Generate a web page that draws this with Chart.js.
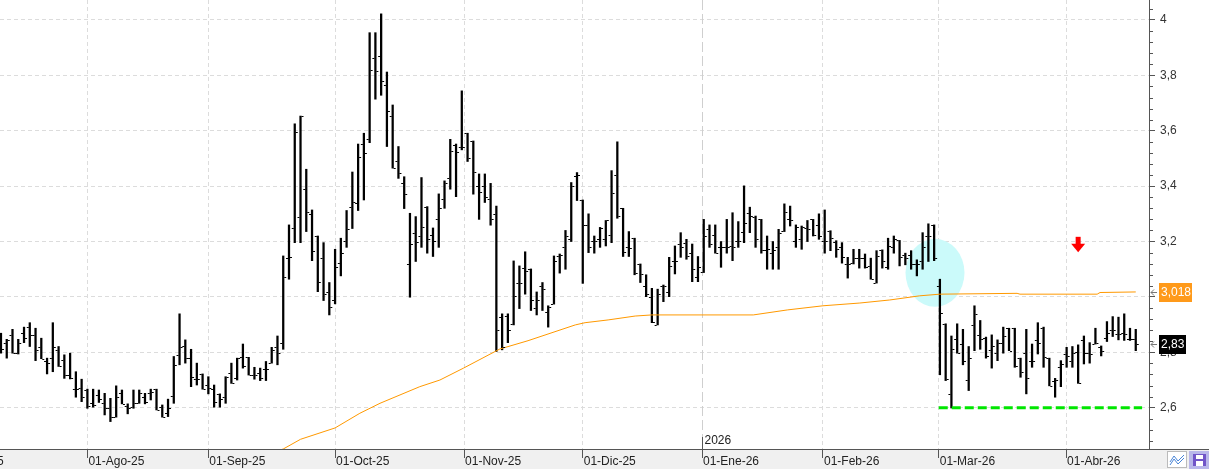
<!DOCTYPE html>
<html>
<head>
<meta charset="utf-8">
<script src="https://cdn.jsdelivr.net/npm/chart.js@4"></script>
<style>
html, body { margin: 0; padding: 0; background: #fff; }
#wrap { width: 1209px; height: 469px; }
</style>
</head>
<body>
<div id="wrap"><canvas id="chart"></canvas></div>
<script>
// DAILY BARS (Jul-25 .. Abr-26), one entry per session
const open = [
2.847,2.833,2.863,2.797,2.869,2.891,2.863,2.821,2.767,2.779,
2.809,2.773,2.718,2.667,2.670,2.664,2.616,2.646,2.616,2.598,
2.566,2.652,2.607,2.604,2.616,2.640,2.652,2.667,2.604,2.580,
2.643,2.791,2.823,2.779,2.703,2.722,2.682,2.667,2.650,2.638,
2.727,2.706,2.782,2.782,2.718,2.727,2.739,2.761,2.821,2.833,
3.140,3.248,3.288,3.389,3.300,3.220,3.140,3.019,2.989,3.122,
3.203,3.326,3.338,3.552,3.569,3.862,3.870,3.764,3.653,3.491,
3.413,3.119,3.230,3.220,3.324,3.224,3.280,3.353,3.428,3.549,
3.540,3.591,3.563,3.401,3.401,3.353,3.298,2.927,2.932,2.903,
3.049,3.103,3.101,2.959,3.040,2.947,2.974,3.146,3.179,3.208,
3.438,3.350,3.260,3.203,3.208,3.208,3.224,3.440,3.320,3.182,
3.212,3.119,3.040,2.999,2.899,3.040,3.019,3.131,3.191,3.196,
3.158,3.071,3.091,3.244,3.224,3.179,3.179,3.184,3.203,3.236,
3.304,3.288,3.280,3.170,3.160,3.182,3.239,3.280,3.203,3.208,
3.248,3.280,3.260,3.203,3.239,3.200,3.179,3.119,3.124,3.140,
3.140,3.112,3.050,3.170,3.107,3.182,3.204,3.152,3.152,3.119,
3.131,3.220,3.260,3.040,2.903,2.650,2.847,2.831,2.700,2.899,
2.863,2.851,2.809,2.799,2.833,2.887,2.887,2.779,2.799,2.767,
2.845,2.887,2.779,2.698,2.746,2.794,2.770,2.800,2.845,2.799,
2.830,2.818,2.851,2.881,2.866,2.869,2.847,2.847];
const high = [
2.869,2.847,2.883,2.847,2.891,2.907,2.887,2.851,2.779,2.907,
2.821,2.791,2.797,2.730,2.703,2.667,2.667,2.664,2.652,2.634,
2.679,2.664,2.614,2.664,2.664,2.652,2.667,2.667,2.610,2.631,
2.785,2.939,2.845,2.811,2.761,2.722,2.712,2.682,2.650,2.712,
2.761,2.779,2.830,2.782,2.746,2.743,2.767,2.818,2.859,3.148,
3.260,3.625,3.653,3.461,3.314,3.220,3.196,3.052,3.172,3.212,
3.312,3.451,3.552,3.591,3.954,3.954,4.022,3.812,3.693,3.543,
3.434,3.302,3.290,3.431,3.326,3.249,3.372,3.419,3.569,3.552,
3.744,3.591,3.563,3.444,3.444,3.410,3.328,2.939,2.939,3.130,
3.112,3.163,3.101,3.018,3.052,2.968,3.148,3.155,3.240,3.413,
3.449,3.350,3.300,3.220,3.251,3.276,3.456,3.560,3.320,3.236,
3.212,3.119,3.080,3.031,3.028,3.043,3.143,3.184,3.232,3.208,
3.191,3.146,3.280,3.260,3.260,3.200,3.280,3.304,3.272,3.401,
3.324,3.292,3.280,3.220,3.200,3.244,3.336,3.328,3.260,3.256,
3.276,3.280,3.300,3.314,3.239,3.203,3.196,3.143,3.172,3.172,
3.155,3.140,3.167,3.170,3.212,3.220,3.204,3.158,3.167,3.134,
3.232,3.264,3.260,3.064,2.903,2.859,2.903,2.883,2.821,2.968,
2.915,2.855,2.863,2.845,2.891,2.887,2.887,2.779,2.883,2.830,
2.907,2.891,2.779,2.706,2.770,2.818,2.821,2.827,2.859,2.835,
2.887,2.823,2.911,2.929,2.927,2.939,2.887,2.883];
const low = [
2.797,2.779,2.797,2.794,2.835,2.821,2.770,2.777,2.722,2.730,
2.749,2.706,2.704,2.638,2.622,2.598,2.602,2.619,2.574,2.550,
2.566,2.614,2.578,2.598,2.616,2.614,2.628,2.592,2.566,2.568,
2.616,2.755,2.761,2.676,2.682,2.667,2.650,2.602,2.602,2.616,
2.688,2.700,2.743,2.718,2.703,2.698,2.698,2.761,2.755,2.811,
3.064,3.196,3.196,3.236,3.131,3.019,2.987,2.935,2.975,3.076,
3.179,3.247,3.312,3.350,3.557,3.714,3.728,3.543,3.465,3.428,
3.319,2.999,3.128,3.179,3.158,3.146,3.179,3.320,3.389,3.362,
3.531,3.489,3.371,3.280,3.341,3.259,2.803,2.809,2.835,2.899,
2.958,3.010,2.951,2.935,2.951,2.891,2.974,3.086,3.100,3.200,
3.348,3.049,3.160,3.158,3.179,3.184,3.196,3.284,3.146,3.146,
3.080,3.052,3.001,2.907,2.899,2.983,3.001,3.083,3.143,3.136,
3.055,3.055,3.088,3.179,3.158,3.107,3.158,3.131,3.179,3.196,
3.232,3.179,3.158,3.100,3.100,3.100,3.236,3.256,3.179,3.172,
3.200,3.220,3.208,3.158,3.167,3.143,3.122,3.068,3.119,3.104,
3.104,3.064,3.050,3.104,3.100,3.158,3.112,3.116,3.100,3.076,
3.100,3.128,3.131,2.719,2.698,2.599,2.797,2.755,2.662,2.806,
2.811,2.779,2.743,2.770,2.797,2.806,2.746,2.710,2.650,2.746,
2.794,2.746,2.679,2.638,2.676,2.746,2.746,2.688,2.758,2.761,
2.830,2.787,2.839,2.857,2.845,2.843,2.843,2.806];
const close = [
2.812,2.845,2.797,2.833,2.851,2.863,2.809,2.777,2.761,2.818,
2.749,2.718,2.706,2.667,2.640,2.607,2.610,2.631,2.598,2.568,
2.638,2.614,2.598,2.616,2.652,2.622,2.655,2.592,2.566,2.598,
2.755,2.818,2.779,2.710,2.703,2.667,2.670,2.619,2.631,2.710,
2.691,2.779,2.751,2.718,2.718,2.706,2.739,2.809,2.799,3.071,
3.143,3.597,3.653,3.308,3.167,3.055,3.011,2.965,3.107,3.158,
3.244,3.343,3.504,3.519,3.820,3.816,3.781,3.672,3.465,3.449,
3.372,3.191,3.200,3.252,3.208,3.203,3.320,3.410,3.528,3.522,
3.540,3.501,3.452,3.380,3.360,3.280,2.881,2.818,2.881,3.004,
3.049,3.092,2.989,2.989,3.028,2.965,3.130,3.152,3.220,3.401,
3.440,3.260,3.179,3.203,3.248,3.276,3.377,3.292,3.164,3.176,
3.088,3.083,3.011,2.911,3.011,3.040,3.110,3.131,3.179,3.146,
3.100,3.107,3.220,3.191,3.158,3.179,3.179,3.179,3.203,3.268,
3.292,3.208,3.170,3.172,3.170,3.232,3.308,3.278,3.252,3.252,
3.244,3.224,3.220,3.203,3.212,3.172,3.143,3.119,3.140,3.140,
3.107,3.064,3.148,3.128,3.184,3.208,3.143,3.140,3.119,3.119,
3.179,3.220,3.140,2.941,2.703,2.811,2.797,2.767,2.779,2.939,
2.847,2.785,2.823,2.835,2.859,2.806,2.751,2.730,2.706,2.767,
2.835,2.782,2.679,2.701,2.758,2.787,2.799,2.690,2.799,2.794,
2.835,2.806,2.869,2.879,2.866,2.866,2.847,2.830];

// MOVING AVERAGE (orange), read at a few sessions
const maIndex = [46, 49, 52, 58, 62.3, 65.8, 72.7, 76.2, 80.3, 86.6, 91.5, 97.4, 99.7, 101.4, 105.4, 110.1, 113, 130.6, 136.5, 142.7, 149.1, 154.3, 159.5, 163, 176.4, 176.9, 190.3, 190.8, 197];
const maValue = [2.430, 2.451, 2.486, 2.527, 2.580, 2.616, 2.676, 2.700, 2.743, 2.812, 2.842, 2.883, 2.899, 2.907, 2.917, 2.931, 2.935, 2.935, 2.953, 2.968, 2.978, 2.989, 3.004, 3.010, 3.013, 3.010, 3.010, 3.016, 3.018];

// AXES
const monthPos = [-8.4, 15, 36, 58, 80.4, 101, 121.7, 142.7, 162.8, 184.9];
const monthLabels = ["01-Jul-25", "01-Ago-25", "01-Sep-25", "01-Oct-25", "01-Nov-25", "01-Dic-25", "01-Ene-26", "01-Feb-26", "01-Mar-26", "01-Abr-26"];
const priceTicks = [2.6, 2.8, 3.0, 3.2, 3.4, 3.6, 3.8, 4.0];

// ANNOTATIONS
const yearMark = { pos: 121.7, label: "2026" };
const supportLine = { value: 2.6, from: 162.8, to: 198.1 };
const circleMark = { x: 162.15, y: 3.087 };
const arrowMark = { x: 187, y: 3.217 };

const yearTick = monthLabels.indexOf("01-Ene-26");
const fmt = (v, d) => v.toFixed(d).replace('.', ',');

Chart.defaults.font.family = '"Liberation Sans", Arial, sans-serif';
Chart.defaults.font.size = 12;
Chart.defaults.color = '#333';

// DRAWING HELPERS
const extras = {
    id: 'extras',
    beforeDraw(chart) {
        const ctx = chart.ctx;
        ctx.save();
        ctx.fillStyle = '#fff';
        ctx.fillRect(0, 0, chart.width, chart.height);
        ctx.fillStyle = '#f0f0f0';
        ctx.fillRect(0, chart.chartArea.bottom, chart.width, chart.height - chart.chartArea.bottom);
        ctx.restore();
    },
    beforeDatasetsDraw(chart) {
        const ctx = chart.ctx, x = chart.scales.x, y = chart.scales.y, a = chart.chartArea;
        ctx.save();
        ctx.beginPath();
        ctx.rect(a.left, a.top, a.right - a.left, a.bottom - a.top);
        ctx.clip();
        // year separator
        const gx = Math.round(x.getPixelForValue(yearMark.pos)) + 0.5;
        ctx.strokeStyle = '#cfcfcf';
        ctx.lineWidth = 1;
        ctx.setLineDash([10, 4]);
        ctx.beginPath();
        ctx.moveTo(gx, a.top);
        ctx.lineTo(gx, a.bottom);
        ctx.stroke();
        ctx.setLineDash([]);
        // cyan circle
        ctx.fillStyle = '#cbfafa';
        ctx.beginPath();
        ctx.ellipse(x.getPixelForValue(circleMark.x), y.getPixelForValue(circleMark.y), 29.5, 34, 0, 0, Math.PI * 2);
        ctx.fill();
        ctx.restore();
    },
    afterDatasetsDraw(chart) {
        const ctx = chart.ctx, x = chart.scales.x, y = chart.scales.y, a = chart.chartArea;
        const meta = chart.getDatasetMeta(1);
        ctx.save();
        ctx.beginPath();
        ctx.rect(a.left, a.top, a.right - a.left, a.bottom - a.top);
        ctx.clip();
        // open / close ticks
        ctx.fillStyle = '#000';
        meta.data.forEach((bar, i) => {
            ctx.fillRect(bar.x - 3, Math.round(y.getPixelForValue(open[i])), 2, 1);
            ctx.fillRect(bar.x + 1, Math.round(y.getPixelForValue(close[i])), 2, 1);
        });
        // support line
        const sy = y.getPixelForValue(supportLine.value);
        ctx.strokeStyle = '#00e600';
        ctx.lineWidth = 3;
        ctx.setLineDash([9, 4]);
        ctx.beginPath();
        ctx.moveTo(x.getPixelForValue(supportLine.from), sy);
        ctx.lineTo(x.getPixelForValue(supportLine.to), sy);
        ctx.stroke();
        ctx.setLineDash([]);
        // red arrow
        const ax = x.getPixelForValue(arrowMark.x), ay = y.getPixelForValue(arrowMark.y);
        ctx.fillStyle = '#ff0000';
        ctx.fillRect(ax - 2.5, ay, 5, 8);
        ctx.beginPath();
        ctx.moveTo(ax - 7, ay + 7);
        ctx.lineTo(ax + 7, ay + 7);
        ctx.lineTo(ax, ay + 15.5);
        ctx.closePath();
        ctx.fill();
        ctx.restore();
    },
    afterDraw(chart) {
        const ctx = chart.ctx, x = chart.scales.x, y = chart.scales.y, a = chart.chartArea;
        ctx.save();
        // bottom line across full width
        ctx.strokeStyle = '#555';
        ctx.lineWidth = 1;
        ctx.beginPath();
        ctx.moveTo(0, a.bottom + 0.5);
        ctx.lineTo(chart.width, a.bottom + 0.5);
        ctx.stroke();
        // minor price ticks
        ctx.beginPath();
        for (let k = 62; k <= 101; k++) {
            if (k % 5 === 0) continue;
            const ty = Math.round(y.getPixelForValue(k * 0.04)) + 0.5;
            ctx.moveTo(a.right, ty);
            ctx.lineTo(a.right + 4, ty);
        }
        ctx.stroke();
        // year marker
        const gx = Math.round(x.getPixelForValue(yearMark.pos)) + 0.5;
        ctx.beginPath();
        ctx.moveTo(gx, a.bottom - 12);
        ctx.lineTo(gx, a.bottom);
        ctx.stroke();
        ctx.fillStyle = '#222';
        ctx.font = '12px "Liberation Sans", Arial, sans-serif';
        ctx.textBaseline = 'middle';
        ctx.textAlign = 'left';
        ctx.fillText(yearMark.label, gx + 2, a.bottom - 8);
        // last value labels
        const tags = [
            { v: maValue[maValue.length - 1], text: fmt(maValue[maValue.length - 1], 3), bg: '#ff9a1a', w: 33 },
            { v: close[close.length - 1], text: fmt(close[close.length - 1], 2), bg: '#000', w: 27 }
        ];
        tags.forEach(t => {
            const ty = Math.round(y.getPixelForValue(t.v));
            ctx.fillStyle = t.bg;
            ctx.fillRect(a.right + 10, ty - 9, t.w, 19);
            ctx.fillStyle = '#fff';
            ctx.fillText(t.text, a.right + 12, ty + 1);
            ctx.strokeStyle = '#777';
            ctx.beginPath();
            ctx.moveTo(a.right + 2, ty + 0.5);
            ctx.lineTo(a.right + 8, ty + 0.5);
            ctx.moveTo(a.right + 5, ty - 2.5);
            ctx.lineTo(a.right + 2, ty + 0.5);
            ctx.lineTo(a.right + 5, ty + 3.5);
            ctx.stroke();
        });
        // corner buttons
        const by = a.bottom + 2;
        ctx.fillStyle = '#fff';
        ctx.fillRect(1167, by, 20, 17);
        ctx.strokeStyle = '#bbb';
        ctx.strokeRect(1167.5, by + 0.5, 19, 16);
        ctx.strokeStyle = '#4a86d8';
        ctx.beginPath();
        ctx.moveTo(1170, by + 11); ctx.lineTo(1174, by + 5); ctx.lineTo(1178, by + 10); ctx.lineTo(1184, by + 4);
        ctx.moveTo(1170, by + 14); ctx.lineTo(1174, by + 8); ctx.lineTo(1178, by + 13); ctx.lineTo(1184, by + 7);
        ctx.stroke();
        ctx.fillStyle = '#b9b7ea';
        ctx.fillRect(1189, by, 20, 18);
        ctx.fillStyle = '#7155c8';
        ctx.fillRect(1193, by + 3, 13, 12);
        ctx.fillStyle = '#fff';
        ctx.fillRect(1196, by + 4, 7, 4);
        ctx.fillRect(1196, by + 10, 7, 5);
        ctx.restore();
    }
};

const bars = open.map((o, i) => ({ x: i, y: [low[i], high[i]] }));
const ma = maIndex.map((v, i) => ({ x: v, y: maValue[i] }));

new Chart(document.getElementById('chart'), {
    type: 'bar',
    data: {
        datasets: [
            {
                type: 'line',
                data: ma,
                borderColor: '#ff9900',
                borderWidth: 1,
                pointRadius: 0,
                fill: false,
                tension: 0,
                order: 0
            },
            {
                type: 'bar',
                data: bars,
                backgroundColor: '#000',
                borderWidth: 0,
                barThickness: 1.6,
                order: 1
            }
        ]
    },
    options: {
        responsive: true,
        maintainAspectRatio: false,
        animation: false,
        events: [],
        layout: { padding: 0 },
        plugins: { legend: { display: false }, tooltip: { enabled: false } },
        scales: {
            x: {
                type: 'linear',
                min: -0.17,
                max: 199.3,
                offset: false,
                bounds: 'data',
                afterBuildTicks: s => { s.ticks = monthPos.map(v => ({ value: v })); },
                afterFit: s => { s.height = 20; s.paddingLeft = 0; s.paddingRight = 0; },
                ticks: {
                    autoSkip: false,
                    maxRotation: 0,
                    align: 'start',
                    labelOffset: 1,
                    padding: -4,
                    color: '#222',
                    callback: (v, i) => monthLabels[i]
                },
                grid: {
                    offset: false,
                    color: c => c.index === yearTick ? 'rgba(0,0,0,0)' : '#dcdcdc',
                    tickLength: 9,
                    tickColor: '#555'
                },
                border: { color: '#555', dash: [4, 3] }
            },
            y: {
                position: 'right',
                min: 2.451,
                max: 4.072,
                bounds: 'data',
                afterBuildTicks: s => { s.ticks = priceTicks.map(v => ({ value: v })); },
                afterFit: s => { s.width = 60; s.paddingTop = 0; s.paddingBottom = 0; },
                ticks: {
                    padding: 5,
                    color: '#333',
                    callback: v => String(Math.round(v * 10) / 10).replace('.', ',')
                },
                grid: { color: '#dcdcdc', tickLength: 6, tickColor: '#555' },
                border: { color: '#555', dash: [4, 3] }
            }
        }
    },
    plugins: [extras]
});
</script>
</body>
</html>
